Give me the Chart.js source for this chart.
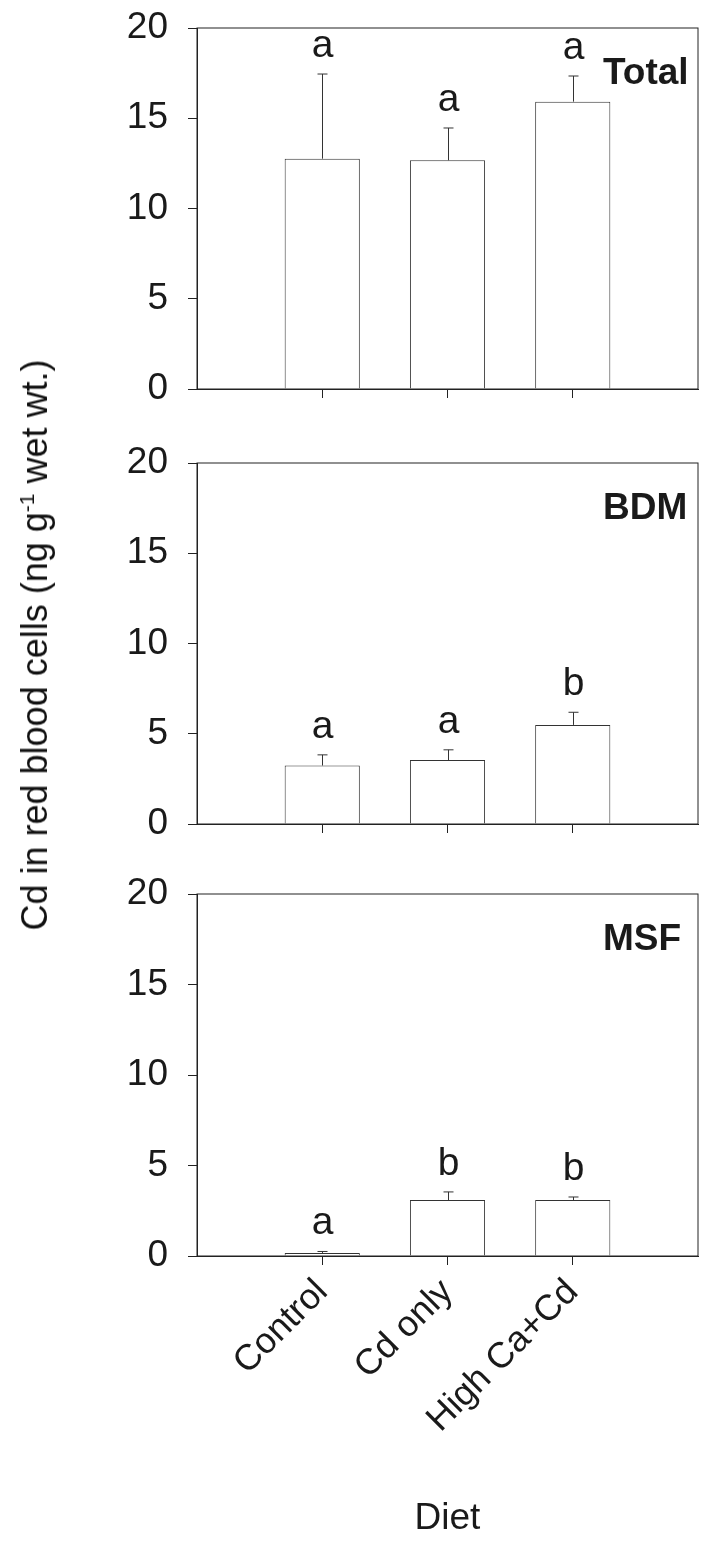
<!DOCTYPE html>
<html>
<head>
<meta charset="utf-8">
<script src="https://cdn.jsdelivr.net/npm/chart.js@4.4.0/dist/chart.umd.min.js"></script>
<style>
  html, body { margin: 0; padding: 0; background: #fff; }
  #page { position: relative; width: 718px; height: 1543px; overflow: hidden; font-family: "Liberation Sans", Arial, sans-serif; }
  canvas { position: absolute; left: 0; }
  #p1 { top: 0; }
  #p2 { top: 420px; }
  #p3 { top: 850px; }
  #ytitle {
    position: absolute; left: 35px; top: 645px;
    transform: translate(-50%, -50%) rotate(-90deg);
    font-size: 36px; line-height: 36px; white-space: nowrap; color: #111;
  }
  #ytitle sup { font-size: 21px; line-height: 0; }
</style>
</head>
<body>
<div id="page">
  <canvas id="p1" width="718" height="420"></canvas>
  <canvas id="p2" width="718" height="430"></canvas>
  <canvas id="p3" width="718" height="693"></canvas>
  <div id="ytitle">Cd in red blood cells (ng g<sup>-1</sup> wet wt.)</div>
</div>
<script>
// diet groups along the x axis
const diets = ['Control', 'Cd only', 'High Ca+Cd'];
const yTicks = [0, 5, 10, 15, 20];

// Total
const totalMean = [12.76, 12.67, 15.92];
const totalErr = [4.69, 1.79, 1.42];
const totalLetters = ['a', 'a', 'a'];

// BDM
const bdmMean = [3.24, 3.54, 5.49];
const bdmErr = [0.59, 0.57, 0.70];
const bdmLetters = ['a', 'a', 'b'];

// MSF
const msfMean = [0.17, 3.09, 3.09];
const msfErr = [0.08, 0.45, 0.17];
const msfLetters = ['a', 'b', 'b'];

const FONT = '"Liberation Sans", Arial, sans-serif';
const INK = '#1a1a1a';

// frame, error bars, significance letters and panel name
const decor = {
  id: 'decor',
  afterDatasetsDraw(chart, args, opts) {
    const { ctx, chartArea: a, scales: { x, y } } = chart;
    ctx.save();
    ctx.strokeStyle = '#222';
    ctx.lineWidth = 1;
    ctx.strokeRect(a.left, a.top, a.right - a.left, a.bottom - a.top);

    opts.means.forEach((m, i) => {
      const px = Math.round(x.getPixelForValue(i + 1)) + 0.5;
      const y0 = y.getPixelForValue(m);
      const y1 = y.getPixelForValue(m + opts.errs[i]);
      ctx.strokeStyle = '#333';
      ctx.beginPath();
      ctx.moveTo(px, y0);
      ctx.lineTo(px, y1);
      ctx.moveTo(px - 5, y1);
      ctx.lineTo(px + 5, y1);
      ctx.stroke();

      ctx.fillStyle = INK;
      ctx.font = '39px ' + FONT;
      ctx.textAlign = 'center';
      ctx.textBaseline = 'alphabetic';
      ctx.fillText(opts.letters[i], px, y1 - 17);
    });

    ctx.font = 'bold 37px ' + FONT;
    ctx.textAlign = 'left';
    ctx.fillStyle = INK;
    ctx.fillText(opts.label, a.right - 95, a.top + 56);
    ctx.restore();
  }
};

function makePanel(id, means, errs, letters, label, padTop, xHeight, showX) {
  const ctx = document.getElementById(id).getContext('2d');
  return new Chart(ctx, {
    type: 'bar',
    data: {
      datasets: [{
        data: means.map((v, i) => ({ x: i + 1, y: v })),
        backgroundColor: '#fff',
        borderColor: '#333',
        borderWidth: 1,
        barPercentage: 0.6,
        categoryPercentage: 1
      }]
    },
    options: {
      responsive: false,
      animation: false,
      layout: { padding: { top: padTop, right: 20, bottom: 0, left: 0 } },
      plugins: {
        legend: { display: false },
        tooltip: { enabled: false },
        decor: { means: means, errs: errs, letters: letters, label: label }
      },
      scales: {
        x: {
          type: 'linear',
          min: 0,
          max: 4,
          offset: false,
          afterBuildTicks: s => { s.ticks = diets.map((d, i) => ({ value: i + 1 })); },
          afterFit: s => {
            s.height = xHeight;
            s.paddingLeft = s.paddingRight = 0;
          },
          grid: { drawOnChartArea: false, tickLength: 9, color: '#222', offset: false },
          border: { color: '#222', width: 1 },
          ticks: {
            display: showX,
            autoSkip: false,
            minRotation: 45,
            maxRotation: 45,
            padding: 6,
            color: INK,
            font: { family: FONT, size: 36 },
            callback: v => diets[v - 1]
          },
          title: {
            display: showX,
            text: 'Diet',
            color: INK,
            font: { family: FONT, size: 37 },
            padding: { top: 0, bottom: 2 }
          }
        },
        y: {
          min: 0,
          max: 20,
          afterBuildTicks: s => { s.ticks = yTicks.map(v => ({ value: v })); },
          afterFit: s => {
            s.width = 197;
            s.paddingTop = s.paddingBottom = 0;
          },
          grid: { drawOnChartArea: false, tickLength: 9, color: '#222' },
          border: { color: '#222', width: 1 },
          ticks: {
            padding: 20,
            color: INK,
            font: { family: FONT, size: 37 }
          }
        }
      }
    },
    plugins: [decor]
  });
}

makePanel('p1', totalMean, totalErr, totalLetters, 'Total', 28, 31, false);
makePanel('p2', bdmMean, bdmErr, bdmLetters, 'BDM', 43, 26, false);
makePanel('p3', msfMean, msfErr, msfLetters, 'MSF', 44, 287, true);
</script>
</body>
</html>
